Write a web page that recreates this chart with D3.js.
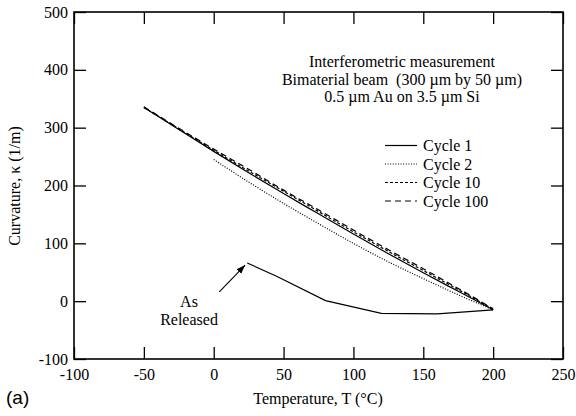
<!DOCTYPE html>
<html><head><meta charset="utf-8">
<script src="https://cdn.jsdelivr.net/npm/d3@7"></script>
<style>
html,body{margin:0;padding:0;background:#fff;}
svg{display:block;}
text{font-family:"Liberation Serif","Times New Roman",serif;fill:#000;}
</style></head>
<body>
<svg id="chart" width="576" height="416"></svg>
<script>
// ---- data ----
const xTicks = [-100, -50, 0, 50, 100, 150, 200, 250];
const yTicks = [-100, 0, 100, 200, 300, 400, 500];

const tempMain = [-50, -25, 0, 25, 50, 75, 100, 125, 150, 175, 200];
const cycle1   = [335, 297, 259, 222, 186, 151, 116, 82, 49, 17, -15];
const cycle10  = [335, 298, 261, 225, 190, 155, 120, 86, 53, 20, -14];
const cycle100 = [336, 299, 263, 228, 192, 158, 123, 89, 56, 22, -13];

const tempCycle2 = [0, 25, 50, 75, 100, 125, 150, 175, 200];
const cycle2     = [245, 206, 169, 134, 100, 68, 39, 11, -15];

const tempReleased = [24, 45, 80, 120, 160, 200];
const released     = [66, 43, 1, -21, -22, -15];

const legendLabels = ["Cycle 1", "Cycle 2", "Cycle 10", "Cycle 100"];
const noteLines = ["Interferometric measurement",
                   "Bimaterial beam \u00a0(300 \u00b5m by 50 \u00b5m)",
                   "0.5 \u00b5m Au on 3.5 \u00b5m Si"];

// ---- layout ----
const svg = d3.select("#chart");
const x = d3.scaleLinear().domain([-100, 250]).range([74, 563]);
const y = d3.scaleLinear().domain([-100, 500]).range([359, 12]);

const dashes = [null, "1,1.6", "3,2", "6,4"];
const series = [
  {t: tempMain, v: cycle1, dash: dashes[0]},
  {t: tempCycle2, v: cycle2, dash: dashes[1]},
  {t: tempMain, v: cycle10, dash: dashes[2]},
  {t: tempMain, v: cycle100, dash: dashes[3]}
];

const line = d3.line().curve(d3.curveMonotoneX);
const fmt = d => String(d);

// axes
function styleAxis(g){
  g.attr("font-family", null).attr("font-size", null);
  g.select(".domain").remove();
  g.selectAll(".tick line").attr("stroke", "#000").attr("stroke-width", 1.3);
  g.selectAll("text").attr("fill", "#000")
    .style("font-family", '"Liberation Serif","Times New Roman",serif').style("font-size", "16px");
}
svg.append("g").attr("transform", "translate(0,359)")
  .call(d3.axisBottom(x).tickValues(xTicks).tickSize(-12).tickSizeOuter(0).tickPadding(10).tickFormat(fmt))
  .call(styleAxis);
svg.append("g").attr("transform", "translate(0,12)")
  .call(d3.axisTop(x).tickValues(xTicks).tickSize(-12).tickSizeOuter(0).tickFormat(""))
  .call(styleAxis);
svg.append("g").attr("transform", "translate(74,0)")
  .call(d3.axisLeft(y).tickValues(yTicks).tickSize(-12).tickSizeOuter(0).tickPadding(6).tickFormat(fmt))
  .call(styleAxis);
svg.append("g").attr("transform", "translate(563,0)")
  .call(d3.axisRight(y).tickValues(yTicks).tickSize(-12).tickSizeOuter(0).tickFormat(""))
  .call(styleAxis);

svg.append("rect").attr("x", 74).attr("y", 12).attr("width", 563 - 74).attr("height", 359 - 12)
  .attr("fill", "none").attr("stroke", "#000").attr("stroke-width", 1.6);

// curves
series.forEach(s => {
  svg.append("path")
    .attr("d", line(s.t.map((t, i) => [x(t), y(s.v[i])])))
    .attr("fill", "none").attr("stroke", "#000").attr("stroke-width", 1.2)
    .attr("stroke-dasharray", s.dash);
});
svg.append("path")
  .attr("d", d3.line()(tempReleased.map((t, i) => [x(t), y(released[i])])))
  .attr("fill", "none").attr("stroke", "#000").attr("stroke-width", 1.2);

// arrow
svg.append("defs").append("marker").attr("id", "ah").attr("viewBox", "0 0 10 10")
  .attr("refX", 10).attr("refY", 5).attr("markerWidth", 9).attr("markerHeight", 9)
  .attr("markerUnits", "userSpaceOnUse").attr("orient", "auto")
  .append("path").attr("d", "M0,1.5 L10,5 L0,8.5 Z").attr("fill", "#000");
svg.append("line").attr("x1", x(4)).attr("y1", y(16)).attr("x2", x(22.5)).attr("y2", y(62.5))
  .attr("stroke", "#000").attr("stroke-width", 1.1).attr("marker-end", "url(#ah)");
svg.append("text").attr("x", 189).attr("y", 307).attr("text-anchor", "middle").attr("font-size", 16).text("As");
svg.append("text").attr("x", 189).attr("y", 325).attr("text-anchor", "middle").attr("font-size", 16).text("Released");

// annotation text
noteLines.forEach((s, i) => {
  svg.append("text").attr("x", 402).attr("y", 67 + i * 17.5).attr("text-anchor", "middle")
    .attr("font-size", 16).text(s);
});

// legend
legendLabels.forEach((s, i) => {
  const ly = 145.5 + i * 18.5;
  svg.append("line").attr("x1", 385).attr("x2", 417).attr("y1", ly).attr("y2", ly)
    .attr("stroke", "#000").attr("stroke-width", 1.2).attr("stroke-dasharray", dashes[i]);
  svg.append("text").attr("x", 423).attr("y", ly + 5.5).attr("font-size", 16).text(s);
});

// axis titles
svg.append("text").attr("x", 318).attr("y", 404).attr("text-anchor", "middle").attr("font-size", 16)
  .text("Temperature, T (\u00b0C)");
svg.append("text").attr("transform", "translate(20,186) rotate(-90)").attr("text-anchor", "middle")
  .attr("font-size", 16).text("Curvature, \u03ba (1/m)");
svg.append("text").attr("x", 6).attr("y", 404).attr("font-size", 19)
  .style("font-family", '"Liberation Sans",Arial,sans-serif').text("(a)");
</script>
</body></html>
